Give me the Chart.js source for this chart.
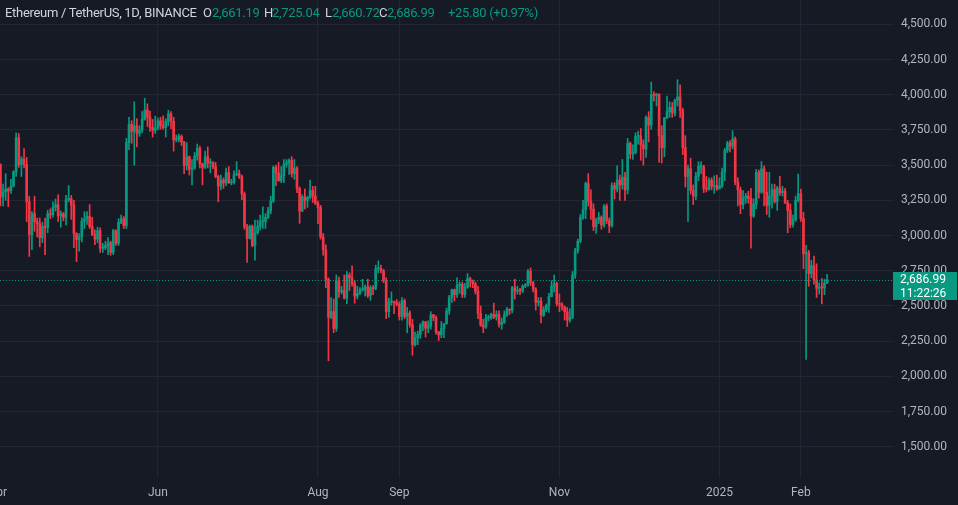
<!DOCTYPE html>
<html><head><meta charset="utf-8">
<script src="https://cdn.jsdelivr.net/npm/chart.js@4.4.1/dist/chart.umd.min.js"></script>
<style>
html,body{margin:0;padding:0;background:#161a25;overflow:hidden}
#wrap{position:relative;width:958px;height:505px}
canvas{position:absolute;left:0;top:0}
#hdr{position:absolute;left:0;top:0;width:958px;height:26px;font:13px Roboto,sans-serif;letter-spacing:-0.3px;color:#d1d4dc;white-space:nowrap}
#hdr span{position:absolute;top:5px}
#hdr .g{color:#089981}
</style></head>
<body><div id="wrap"><canvas id="c" width="958" height="505"></canvas>
<div id="hdr">
<span style="left:5px">Ethereum / TetherUS, 1D, BINANCE</span>
<span style="left:203px">O</span><span class="g" style="left:212px">2,661.19</span>
<span style="left:264px">H</span><span class="g" style="left:272px">2,725.04</span>
<span style="left:325px">L</span><span class="g" style="left:332px">2,660.72</span>
<span style="left:379px">C</span><span class="g" style="left:387px">2,686.99</span>
<span class="g" style="left:448px">+25.80 (+0.97%)</span>
</div></div>
<script>
// Daily candles, ETH/USDT, one entry per day starting 2024-04-01 (index 0) to 2025-02-11
const firstDay = '2024-04-01';
const open = [
3647,3505,3275,3311,3330,3318,3351,3454,3695,3505,3543,3505,3240,3007,3156,3100,3085,2985,3065,3056,3155,3147,3200,3220,3140,3155,3130,3255,3263,3216,
3015,2970,2990,3102,3118,3136,3063,3006,2975,3035,2910,2912,2930,2950,2880,3035,2945,3093,3120,3070,3660,3790,3740,3780,3727,3749,3826,3893,3842,3768,3747,
3762,3815,3780,3767,3810,3865,3812,3680,3683,3705,3665,3497,3560,3470,3480,3565,3620,3510,3485,3560,3515,3516,3490,3420,3350,3395,3374,3447,3375,3380,
3433,3440,3420,3295,3060,2980,3066,2930,3020,3065,3100,3100,3130,3175,3245,3485,3445,3390,3425,3505,3516,3535,3440,3480,3335,3175,3275,3250,3270,3320,3280,
3230,3200,2990,2900,2690,2420,2460,2340,2680,2600,2610,2555,2720,2700,2660,2570,2590,2615,2615,2637,2574,2630,2622,2764,2768,2750,2680,2460,2528,2530,2525,
2513,2425,2538,2425,2450,2367,2225,2272,2298,2360,2388,2342,2360,2438,2418,2315,2295,2340,2375,2465,2560,2615,2580,2645,2655,2580,2632,2695,2678,2657,
2603,2447,2364,2350,2415,2415,2440,2422,2440,2370,2385,2437,2476,2470,2630,2606,2611,2606,2642,2647,2746,2665,2620,2525,2535,2435,2475,2505,2567,2640,2660,
2518,2510,2492,2458,2400,2420,2720,2895,2960,3130,3183,3370,3244,3187,3063,3110,3130,3075,3210,3105,3070,3355,3330,3395,3360,3415,3325,3655,3580,3590,
3705,3708,3645,3615,3840,3785,4000,3995,4005,3710,3625,3835,3880,3910,3870,3960,3985,3890,3625,3420,3475,3320,3280,3422,3490,3490,3335,3330,3393,3350,3355,
3332,3353,3450,3605,3657,3635,3686,3380,3325,3220,3265,3280,3265,3138,3224,3450,3308,3474,3307,3215,3280,3327,3240,3338,3305,3316,3230,3180,3078,3112,3250,
3298,3122,2870,2880,2731,2787,2685,2625,2632,2628,2661.19];
const high = [
3650,3510,3365,3440,3340,3400,3460,3730,3725,3560,3618,3555,3280,3170,3280,3125,3125,3095,3125,3180,3190,3240,3260,3290,3175,3165,3285,3355,3285,3250,
3020,3015,3125,3170,3170,3220,3130,3040,3060,3055,2945,2960,2985,2960,3045,3040,3120,3145,3135,3690,3840,3815,3950,3830,3780,3880,3975,3935,3885,3825,3848,
3835,3840,3850,3830,3890,3880,3840,3715,3720,3715,3670,3660,3565,3540,3590,3650,3635,3515,3600,3630,3545,3525,3520,3430,3430,3410,3480,3490,3400,3460,
3525,3465,3430,3310,3080,3075,3075,3110,3110,3145,3205,3155,3200,3280,3495,3500,3520,3490,3540,3540,3545,3560,3540,3490,3345,3290,3330,3280,3395,3350,3350,
3245,3215,3015,2935,2700,2560,2550,2720,2705,2640,2720,2745,2735,2785,2680,2640,2630,2690,2650,2690,2645,2645,2790,2820,2790,2760,2700,2555,2600,2535,2545,
2530,2560,2550,2490,2465,2405,2315,2320,2375,2395,2390,2395,2460,2440,2430,2320,2390,2375,2485,2575,2620,2620,2700,2670,2670,2660,2730,2705,2685,2670,
2640,2500,2405,2440,2435,2450,2520,2465,2465,2415,2465,2490,2480,2640,2690,2640,2625,2650,2660,2760,2770,2675,2630,2560,2560,2495,2515,2590,2680,2720,2670,
2585,2525,2500,2490,2480,2745,2910,2975,3150,3250,3380,3440,3325,3225,3125,3165,3140,3220,3225,3125,3375,3375,3495,3430,3540,3450,3690,3665,3645,3730,
3740,3760,3680,3850,3880,4090,4020,4010,4005,3780,3840,3990,3950,3945,3970,4107,4070,3905,3710,3500,3550,3360,3450,3525,3525,3500,3420,3410,3410,3425,3430,
3410,3480,3620,3670,3675,3745,3700,3410,3345,3320,3300,3315,3335,3260,3470,3465,3525,3495,3450,3450,3365,3365,3350,3420,3350,3335,3250,3225,3145,3280,3437,
3330,3165,2930,2895,2825,2855,2800,2665,2695,2690,2725.04];
const low = [
3420,3210,3210,3250,3205,3300,3345,3420,3485,3420,3480,3100,2852,2900,3030,2990,2920,2950,2865,3020,3120,3130,3175,3100,3060,3105,3075,3240,3115,2915,
2815,2890,2955,3050,3080,3050,3000,2935,2950,2880,2880,2900,2865,2860,2865,2930,2930,3085,3050,3050,3610,3655,3500,3630,3705,3730,3820,3775,3740,3700,3725,
3750,3755,3755,3700,3780,3760,3600,3665,3665,3640,3440,3465,3430,3360,3470,3535,3480,3360,3475,3480,3445,3475,3410,3240,3325,3335,3355,3370,3360,3365,
3425,3405,3255,3045,2810,2975,2920,2825,3010,3040,3050,3050,3120,3155,3235,3355,3385,3375,3375,3485,3435,3415,3400,3305,3087,3170,3190,3200,3260,3235,3220,
3085,2975,2860,2630,2111,2410,2310,2320,2560,2585,2550,2515,2610,2640,2520,2550,2580,2605,2570,2560,2540,2580,2615,2735,2735,2665,2410,2420,2505,2445,2500,
2400,2400,2410,2310,2350,2150,2215,2225,2270,2325,2280,2310,2335,2395,2300,2255,2275,2275,2370,2440,2525,2535,2560,2590,2560,2560,2625,2635,2630,2585,
2410,2355,2310,2340,2395,2405,2410,2400,2350,2335,2375,2425,2440,2450,2550,2585,2580,2595,2630,2640,2645,2600,2470,2500,2380,2425,2460,2455,2565,2600,2500,
2460,2470,2400,2355,2385,2410,2695,2875,2950,3115,3120,3210,3115,3035,3015,3085,3045,3060,3085,3020,3060,3260,3310,3250,3330,3250,3295,3545,3540,3580,
3650,3535,3500,3555,3665,3755,3955,3920,3520,3515,3560,3830,3840,3840,3850,3920,3840,3575,3345,3100,3295,3220,3255,3390,3440,3305,3310,3320,3325,3300,3320,
3330,3340,3390,3590,3595,3615,3360,3210,3155,3190,3230,3230,2910,3130,3190,3265,3300,3210,3150,3130,3195,3230,3180,3285,3280,3230,3020,3055,3060,3100,3240,
3100,2765,2120,2640,2700,2655,2560,2585,2515,2580,2660.72];
const close = [
3505,3275,3311,3330,3318,3351,3454,3695,3505,3543,3505,3240,3007,3156,3100,3085,2985,3065,3056,3155,3147,3200,3220,3140,3155,3130,3255,3263,3216,3015,
2970,2990,3102,3118,3136,3063,3006,2975,3035,2910,2912,2930,2950,2880,3035,2945,3093,3120,3070,3660,3790,3740,3780,3727,3749,3826,3893,3842,3768,3747,3762,
3815,3780,3767,3810,3865,3812,3680,3683,3705,3665,3497,3560,3470,3480,3565,3620,3510,3485,3560,3515,3516,3490,3420,3350,3395,3374,3447,3375,3380,3433,
3440,3420,3295,3060,2980,3066,2930,3020,3065,3100,3100,3130,3175,3245,3485,3445,3390,3425,3505,3516,3535,3440,3480,3335,3175,3275,3250,3270,3320,3280,3230,
3200,2990,2900,2690,2420,2460,2340,2680,2600,2610,2555,2720,2700,2660,2570,2590,2615,2615,2637,2574,2630,2622,2764,2768,2750,2680,2460,2528,2530,2525,2513,
2425,2538,2425,2450,2367,2225,2272,2298,2360,2388,2342,2360,2438,2418,2315,2295,2340,2375,2465,2560,2615,2580,2645,2655,2580,2632,2695,2678,2657,2603,
2447,2364,2350,2415,2415,2440,2422,2440,2370,2385,2437,2476,2470,2630,2606,2611,2606,2642,2647,2746,2665,2620,2525,2535,2435,2475,2505,2567,2640,2660,2518,
2510,2492,2458,2400,2420,2720,2895,2960,3130,3183,3370,3244,3187,3063,3110,3130,3075,3210,3105,3070,3355,3330,3395,3360,3415,3325,3655,3580,3590,3705,
3708,3645,3615,3840,3785,4000,3995,4005,3710,3625,3835,3880,3910,3870,3960,3985,3890,3625,3420,3475,3320,3280,3422,3490,3490,3335,3330,3393,3350,3355,3332,
3353,3450,3605,3657,3635,3686,3380,3325,3220,3265,3280,3265,3138,3224,3450,3308,3474,3307,3215,3280,3327,3240,3338,3305,3316,3230,3180,3078,3112,3250,3298,
3122,2870,2880,2731,2787,2685,2625,2632,2628,2661.19,2686.99];

// Axis ticks (day index from firstDay) and labels
const xTickDays = [0, 61, 122, 153, 214, 275, 306];
const xTickLabels = ['Apr', 'Jun', 'Aug', 'Sep', 'Nov', '2025', 'Feb'];
const yTicks = [1500, 1750, 2000, 2250, 2500, 2750, 3000, 3250, 3500, 3750, 4000, 4250, 4500];
const countdown = '11:22:26';

const UP = '#089981', DOWN = '#f23645', GRID = '#232632', TXT = '#b2b5be', BG = '#161a25';
const days = close.map((_, i) => i);
const colors = days.map(i => close[i] >= open[i] ? UP : DOWN);
const wickData = days.map(i => ({x: i, y: [low[i], high[i]]}));
const bodyData = days.map(i => ({x: i, y: [open[i], close[i]]}));
const lastClose = close[close.length - 1];
const fmt = v => Number(v).toLocaleString('en-US', {minimumFractionDigits: 2, maximumFractionDigits: 2});
const noPad = s => { s.paddingLeft = 0; s.paddingRight = 0; s.paddingTop = 0; s.paddingBottom = 0; };

const bgPlugin = {
  id: 'bg',
  beforeDraw(chart) {
    const c = chart.ctx;
    c.save(); c.fillStyle = BG; c.fillRect(0, 0, chart.width, chart.height); c.restore();
  }
};
const lastPricePlugin = {
  id: 'lastPrice',
  afterDatasetsDraw(chart) {
    const c = chart.ctx, a = chart.chartArea;
    const y = Math.round(chart.scales.y.getPixelForValue(lastClose)) + 0.5;
    c.save();
    c.strokeStyle = UP; c.lineWidth = 1; c.setLineDash([1, 2]);
    c.beginPath(); c.moveTo(a.left, y); c.lineTo(a.right, y); c.stroke();
    c.restore();
  },
  afterDraw(chart) {
    const c = chart.ctx, a = chart.chartArea;
    const y = Math.round(chart.scales.y.getPixelForValue(lastClose));
    c.save();
    c.fillStyle = UP;
    c.fillRect(a.right - 1, y - 8, chart.width - a.right, 28);
    c.fillStyle = '#ffffff';
    c.font = '12px Roboto, sans-serif';
    c.textBaseline = 'middle';
    c.textAlign = 'left';
    c.fillText(fmt(lastClose), a.right + 6, y);
    c.fillText(countdown, a.right + 6, y + 14);
    c.restore();
  }
};

new Chart(document.getElementById('c'), {
  type: 'bar',
  data: {
    datasets: [
      {data: wickData, backgroundColor: colors, barThickness: 1, grouped: false, order: 2},
      {data: bodyData, backgroundColor: colors, barThickness: 2, minBarLength: 1, grouped: false, order: 1}
    ]
  },
  options: {
    responsive: false, animation: false, devicePixelRatio: 1,
    layout: {padding: 0},
    plugins: {legend: {display: false}, tooltip: {enabled: false}},
    scales: {
      x: {
        type: 'linear', min: 0.84, max: 341.5, offset: false,
        afterBuildTicks: s => { s.ticks = xTickDays.map(v => ({value: v})); },
        afterFit: s => { s.height = 28; noPad(s); },
        grid: {color: GRID, drawTicks: false, offset: false},
        border: {display: false},
        ticks: {
          autoSkip: false, maxRotation: 0, color: TXT, padding: 9,
          font: {family: 'Roboto', size: 12},
          callback: v => { const k = xTickDays.indexOf(v); return k >= 0 ? xTickLabels[k] : ''; }
        }
      },
      y: {
        position: 'right', min: 1285.5, max: 4673,
        afterBuildTicks: s => { s.ticks = yTicks.map(v => ({value: v})); },
        afterFit: s => { s.width = 64; noPad(s); },
        grid: {color: GRID, drawTicks: false},
        border: {display: false},
        ticks: {
          color: TXT, padding: 7, crossAlign: 'near',
          font: {family: 'Roboto', size: 12},
          callback: v => fmt(v)
        }
      }
    }
  },
  plugins: [bgPlugin, lastPricePlugin]
});
</script>
</body></html>
